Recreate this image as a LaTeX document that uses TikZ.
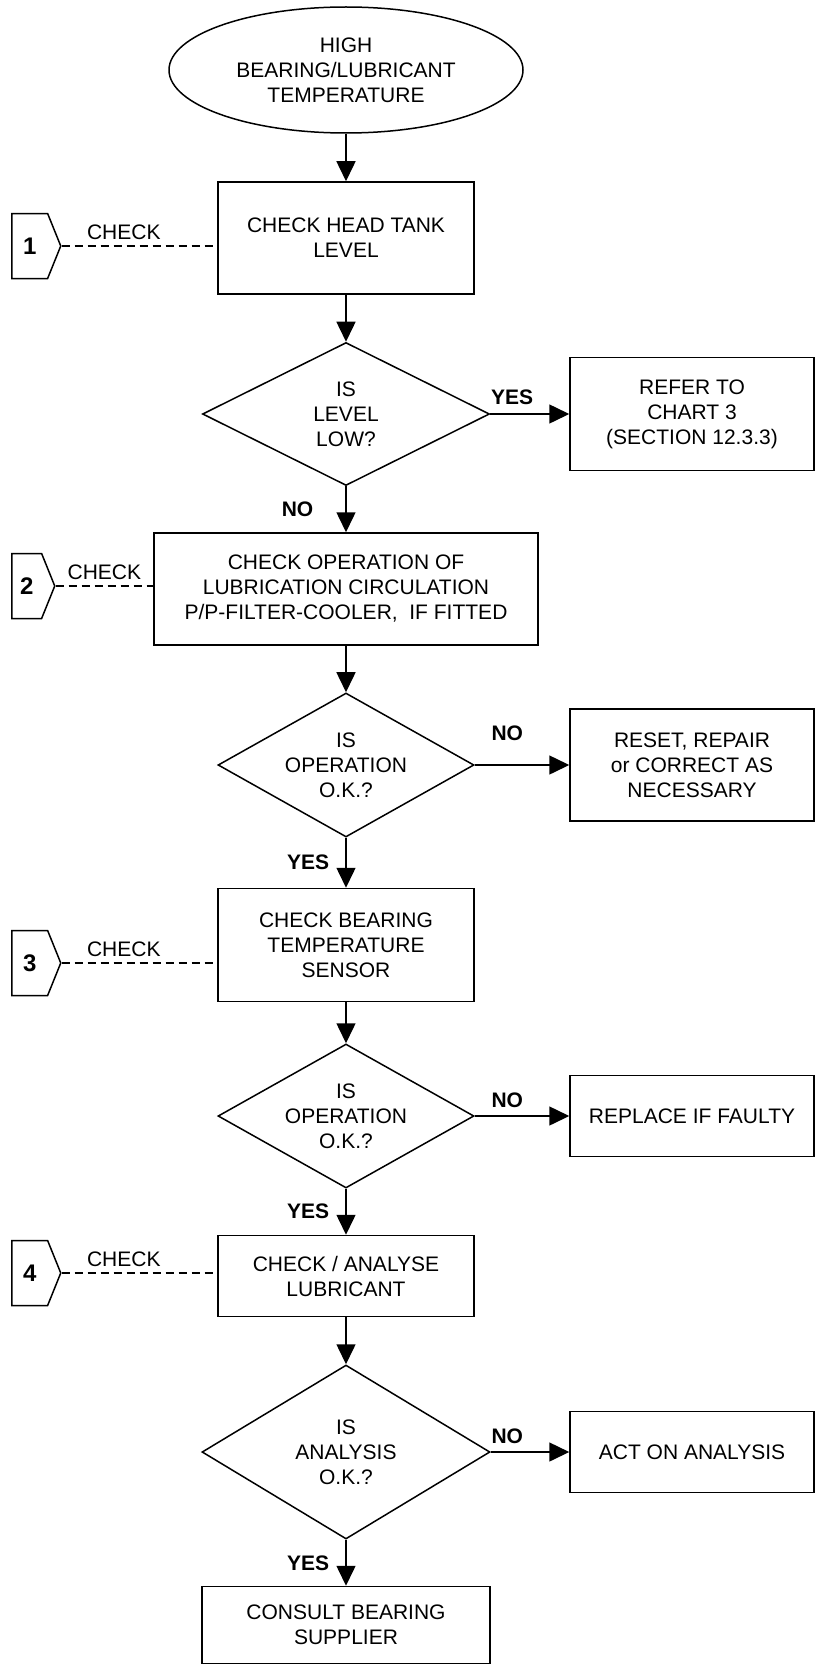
\documentclass[tikz,border=0pt]{standalone}
\usepackage{fontspec}
\setmainfont{Liberation Sans}
\usetikzlibrary{shapes.geometric,shapes.symbols,arrows.meta}

\begin{document}
\begin{tikzpicture}[x=1pt, y=-1pt, line width=1.5pt,
    every node/.style={font=\fontsize{21}{25}\selectfont, align=center, inner sep=0pt},
    box/.style={draw, rectangle, minimum width=256pt, minimum height=112pt},
    side/.style={draw, rectangle, minimum width=244pt, minimum height=112pt},
    test/.style={draw, diamond, aspect=1.78, minimum width=256pt, minimum height=144pt},
    tag/.style={draw, signal, signal to=east, signal pointer angle=136,
      minimum height=65pt, font=\fontsize{24}{28}\selectfont\bfseries},
    lbl/.style={font=\fontsize{21}{25}\selectfont\bfseries},
    flow/.style={-{Triangle[length=20pt,width=19pt]}},
    link/.style={dash pattern=on 8pt off 5pt}]

    \useasboundingbox (0,0) rectangle (815,1664);

    \node[draw, ellipse, minimum width=354pt, minimum height=126pt] (start) at (346,70)
      {HIGH\\BEARING/LUBRICANT\\TEMPERATURE};
    \node[box] (b1) at (346,238) {CHECK HEAD TANK\\LEVEL};
    \node[test, aspect=2, minimum width=287pt, minimum height=143pt] (d1) at (346,414) {IS\\LEVEL\\LOW?};
    \node[side, minimum height=113pt] (r1) at (692,414) {REFER TO\\CHART 3\\(SECTION 12.3.3)};
    \node[box, minimum width=384pt] (b2) at (346,589)
      {CHECK OPERATION OF\\LUBRICATION CIRCULATION\\P/P-FILTER-COOLER,~ IF FITTED};
    \node[test] (d2) at (346,765) {IS\\OPERATION\\O.K.?};
    \node[side] (r2) at (692,765) {RESET, REPAIR\\or CORRECT AS\\NECESSARY};
    \node[box, minimum height=113pt] (b3) at (346,945) {CHECK BEARING\\TEMPERATURE\\SENSOR};
    \node[test] (d3) at (346,1116) {IS\\OPERATION\\O.K.?};
    \node[side, minimum height=81pt] (r3) at (692,1116) {REPLACE IF FAULTY};
    \node[box, minimum height=81pt] (b4) at (346,1276) {CHECK / ANALYSE\\LUBRICANT};
    \node[test, aspect=1.65, minimum width=288pt, minimum height=174pt] (d4) at (346,1452) {IS\\ANALYSIS\\O.K.?};
    \node[side, minimum height=81pt] (r4) at (692,1452) {ACT ON ANALYSIS};
    \node[box, minimum width=288pt, minimum height=77pt] (b5) at (346,1625) {CONSULT BEARING\\SUPPLIER};

    % Main flow
    \draw[flow] (start) -- (b1);
    \draw[flow] (b1) -- (d1);
    \draw[flow] (d1) -- node[lbl, midway, left=32pt] {NO} (b2);
    \draw[flow] (b2) -- (d2);
    \draw[flow] (d2) -- node[lbl, midway, left=16pt] {YES} (b3);
    \draw[flow] (b3) -- (d3);
    \draw[flow] (d3) -- node[lbl, midway, left=16pt] {YES} (b4);
    \draw[flow] (b4) -- (d4);
    \draw[flow] (d4) -- node[lbl, midway, left=16pt] {YES} (b5);

    % Side branches
    \draw[flow] (d1) -- node[lbl, pos=0, anchor=south west, yshift=9pt] {YES} (r1);
    \draw[flow] (d2) -- node[lbl, pos=0, anchor=south west, xshift=16pt, yshift=24pt] {NO} (r2);
    \draw[flow] (d3) -- node[lbl, pos=0, anchor=south west, xshift=16pt, yshift=8pt] {NO} (r3);
    \draw[flow] (d4) -- node[lbl, pos=0, anchor=south west, yshift=8pt] {NO} (r4);

    % Check tags
    \foreach \n/\y/\b/\w/\p in {1/246/b1/49/0.4, 2/586/b2/43/0.5, 3/963/b3/49/0.4, 4/1273/b4/49/0.4} {
      \node[tag, minimum width=\w pt, anchor=west] (t\n) at (11,\y) {\n};
      \draw[link] (t\n.east) -- node[pos=\p, above=6pt] {CHECK} (t\n.east -| \b.west);
    }

  \end{tikzpicture}
\end{document}
